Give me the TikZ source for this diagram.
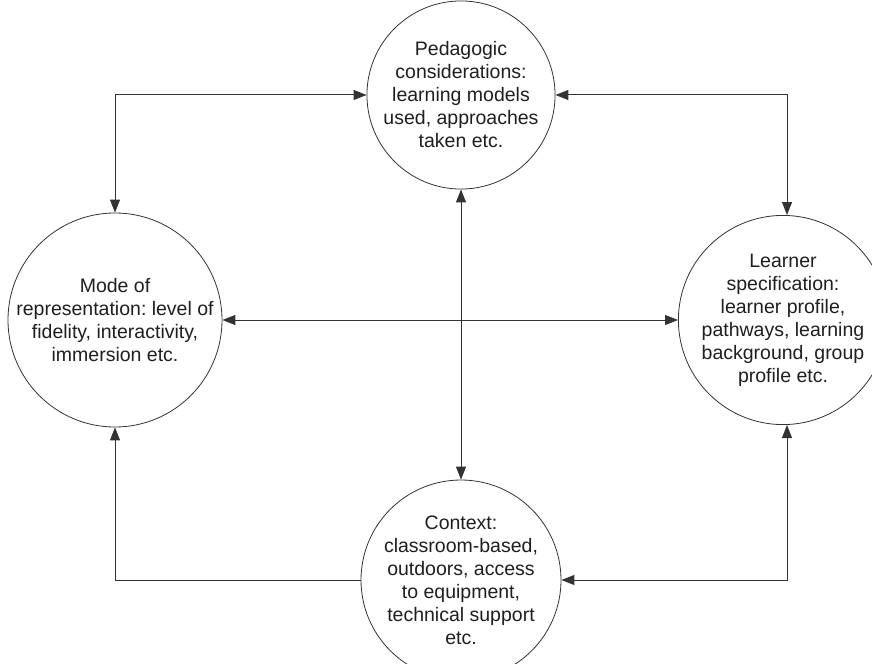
\documentclass[tikz,border=0pt]{standalone}
\usepackage{fontspec}
\setmainfont{Liberation Sans}
\usetikzlibrary{arrows.meta}
\frenchspacing
\begin{document}
\begin{tikzpicture}[x=1bp,y=-1bp,
  >={Triangle[length=13bp,width=10bp]},
  bubble/.style={circle, draw=black!80, line width=0.8bp, inner sep=0pt, align=center,
    font=\fontsize{19.5bp}{23bp}\selectfont, text=black!88},
  link/.style={draw=black!80, line width=1bp},
]
\path[use as bounding box, fill=white] (0,0) rectangle (872,664);
\node[bubble, minimum size=172bp] (ped) at (461,95)
  {Pedagogic\\considerations:\\learning models\\used, approaches\\taken etc.};
\node[bubble, minimum size=206bp] (mode) at (115,320)
  {Mode of\\representation: level of\\fidelity, interactivity,\\immersion etc.};
\node[bubble, minimum size=180bp] (learn) at (783,320)
  {Learner\\specification:\\learner profile,\\pathways, learning\\background, group\\profile etc.};
\node[bubble, minimum size=176bp] (ctx) at (461,580)
  {Context:\\classroom-based,\\outdoors, access\\to equipment,\\technical support\\etc.};
\coordinate (tl) at (115,95);
\coordinate (tr) at (787,95);
\coordinate (bl) at (115,580);
\coordinate (br) at (787,580);
\draw[link, <->] (mode.north) -- (tl) -- (ped.west);
\draw[link, <->] (learn.north -| tr) -- (tr) -- (ped.east);
\draw[link, ->] (ctx.west) -- (bl) -- (mode.south);
\draw[link, <->] (learn.south -| br) -- (br) -- (ctx.east);
\draw[link, <->] (ped.south) -- (ctx.north);
\draw[link, <->] (mode.east) -- (learn.west);
\end{tikzpicture}
\end{document}
